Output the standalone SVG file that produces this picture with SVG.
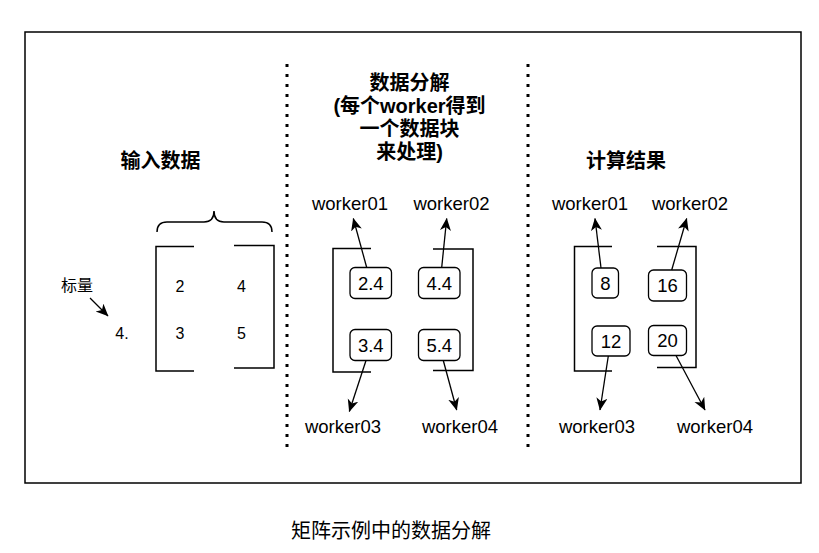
<svg xmlns="http://www.w3.org/2000/svg" width="819" height="553" viewBox="0 0 819 553">
<style>
.t{font-family:"Liberation Sans","Noto Sans CJK SC",Arial,sans-serif;fill:#000}
.cjk{font-family:"Liberation Sans","Noto Sans CJK SC",sans-serif;fill:#000}
.title{font-size:20px;font-weight:bold;text-anchor:middle}
.lbl{font-size:18.5px;text-anchor:middle}
.num{font-size:16px;text-anchor:middle}
.br{fill:none;stroke:#000;stroke-width:1.5}
.box{fill:#fff;stroke:#000;stroke-width:1.3}
.dot{stroke:#000;stroke-width:3;stroke-dasharray:3 7;fill:none}
.ed{stroke:#000;stroke-width:1.3;fill:none;marker-end:url(#arr)}
</style>
<defs>
<marker id="arr" markerUnits="userSpaceOnUse" markerWidth="16" markerHeight="14" refX="12" refY="5.5" orient="auto">
<path d="M0,0 L12.5,5.5 L0,11 L3.5,5.5 Z" fill="#000"/>
</marker>
</defs>
<rect x="0" y="0" width="819" height="553" fill="#fff"/>
<rect id="frame" x="25" y="32" width="776" height="451" fill="none" stroke="#000" stroke-width="1.5"/>

<g id="dividers">
<line class="dot" x1="287" y1="64" x2="287" y2="452"/>
<line class="dot" x1="528" y1="64" x2="528" y2="452"/>
</g>

<g id="input">
<text class="cjk title" x="160.5" y="167.5">输入数据</text>
<path class="br" d="M157,232 Q157,222 167,222 L204,222 Q214,222 214,211 Q214,222 224,222 L262,222 Q272,222 272,232" stroke-width="1.2"/>
<path class="br" d="M194,246.5 L156,246.5 L156,371 L194,371"/>
<path class="br" d="M234,245.5 L274,245.5 L274,368 L234,368"/>
<text class="t num" x="180" y="291.5">2</text>
<text class="t num" x="241.5" y="291.5">4</text>
<text class="t num" x="180" y="338.5">3</text>
<text class="t num" x="241.5" y="338.5">5</text>
<text class="cjk" x="77" y="291" font-size="16" text-anchor="middle">标量</text>
<text class="t" x="122" y="338.5" font-size="16" text-anchor="middle">4.</text>
</g>

<g id="decompose">
<text class="cjk title" x="409.5" y="90">数据分解</text>
<text class="cjk title" x="409.5" y="113">(每个worker得到</text>
<text class="cjk title" x="409.5" y="136">一个数据块</text>
<text class="cjk title" x="409.5" y="159">来处理)</text>
<path class="br" d="M371,248.5 L333,248.5 L333,372 L371,372"/>
<path class="br" d="M433,249 L473,249 L473,370.5 L433,370.5"/>
</g>
<g id="d24"><rect class="box" x="350" y="267.5" width="41.5" height="31" rx="5"/><text class="t lbl" x="370.8" y="289.5">2.4</text></g>
<g id="d44"><rect class="box" x="418.5" y="267.5" width="41.5" height="31" rx="5"/><text class="t lbl" x="439.3" y="289.5">4.4</text></g>
<g id="d34"><rect class="box" x="350" y="329.5" width="41.5" height="31" rx="5"/><text class="t lbl" x="370.8" y="351.5">3.4</text></g>
<g id="d54"><rect class="box" x="418.5" y="329.5" width="41.5" height="31" rx="5"/><text class="t lbl" x="439.3" y="351.5">5.4</text></g>
<g id="dw">
<text class="t lbl" x="350" y="209.5">worker01</text>
<text class="t lbl" x="451.5" y="209.5">worker02</text>
<text class="t lbl" x="343" y="433">worker03</text>
<text class="t lbl" x="460" y="433">worker04</text>
</g>

<g id="result">
<text class="cjk title" x="626" y="167.5">计算结果</text>
<path class="br" d="M612,246.5 L574.5,246.5 L574.5,371 L612,371"/>
<path class="br" d="M657,246.5 L696,246.5 L696,367.5 L657,367.5"/>
</g>
<g id="r8"><rect class="box" x="592" y="268" width="26.5" height="30" rx="5"/><text class="t lbl" x="605.3" y="289.5">8</text></g>
<g id="r16"><rect class="box" x="648.5" y="270" width="38" height="31" rx="5"/><text class="t lbl" x="667.5" y="292">16</text></g>
<g id="r12"><rect class="box" x="592" y="326" width="38" height="30" rx="5"/><text class="t lbl" x="611" y="347.5">12</text></g>
<g id="r20"><rect class="box" x="648.5" y="325.5" width="38" height="30" rx="5"/><text class="t lbl" x="667.5" y="347">20</text></g>
<g id="rw">
<text class="t lbl" x="590" y="209.5">worker01</text>
<text class="t lbl" x="690" y="209.5">worker02</text>
<text class="t lbl" x="597" y="433">worker03</text>
<text class="t lbl" x="715" y="433">worker04</text>
</g>

<g id="connectors">
<line class="ed" x1="90" y1="298" x2="108" y2="316"/>
<line class="ed" x1="366.7" y1="267.5" x2="353.3" y2="218.5"/>
<line class="ed" x1="441.7" y1="267.5" x2="446.7" y2="218.5"/>
<line class="ed" x1="366" y1="360.5" x2="349.3" y2="411.5"/>
<line class="ed" x1="443.3" y1="360.5" x2="456.7" y2="410"/>
<line class="ed" x1="601" y1="268" x2="595" y2="218.5"/>
<line class="ed" x1="671.7" y1="270" x2="686.7" y2="218.5"/>
<line class="ed" x1="608.3" y1="356" x2="600" y2="410"/>
<line class="ed" x1="676" y1="355.5" x2="705" y2="410"/>
</g>

<text id="caption" class="cjk" x="391" y="537.5" font-size="20" text-anchor="middle">矩阵示例中的数据分解</text>
</svg>
